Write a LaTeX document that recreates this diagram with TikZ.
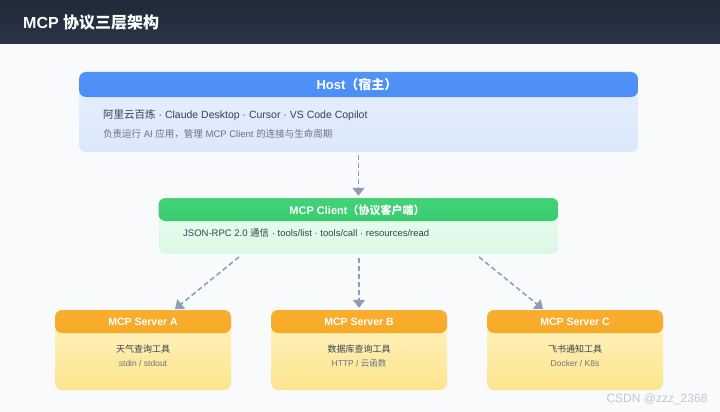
\documentclass[tikz,border=0pt]{standalone}
\usepackage{fontspec}
\setmainfont{Liberation Sans}
\newfontfamily\cjk{Noto Sans CJK SC}
\newcommand\zh[1]{{\cjk #1}}
\usetikzlibrary{arrows.meta}
\definecolor{bg}{HTML}{F8FAFC}
\definecolor{barT}{HTML}{1F2937}
\definecolor{barB}{HTML}{2A3548}
\definecolor{hostH1}{HTML}{5293F7}
\definecolor{hostH2}{HTML}{3D82F2}
\definecolor{hostB1}{HTML}{E8F0FD}
\definecolor{hostB2}{HTML}{DBE8FC}
\definecolor{cliH1}{HTML}{45D27A}
\definecolor{cliH2}{HTML}{25C45E}
\definecolor{cliB1}{HTML}{EBFCF1}
\definecolor{cliB2}{HTML}{DDF8E6}
\definecolor{srvH1}{HTML}{F8AE2E}
\definecolor{srvH2}{HTML}{F59F10}
\definecolor{srvB1}{HTML}{FEF3C6}
\definecolor{srvB2}{HTML}{FDE58D}
\definecolor{conn}{HTML}{8F9CB3}
\definecolor{txtD}{HTML}{374151}
\definecolor{txtG}{HTML}{6B7280}
\definecolor{wm}{HTML}{C3C8D0}
\tikzset{
  card/.style={rounded corners=7pt, inner sep=0pt, draw=none},
  hdr/.style args={#1/#2/#3}{path picture={\shade[top color=#1,bottom color=#2]
      (path picture bounding box.north west) rectangle ([yshift=-#3]path picture bounding box.north east);}},
  ttl/.style={text=white, font=\bfseries\fontsize{#1}{#1}\selectfont, inner sep=0pt},
  ln/.style={text=txtD, font=\fontsize{#1}{#1}\selectfont, inner sep=0pt},
  lng/.style={text=txtG, font=\fontsize{#1}{#1}\selectfont, inner sep=0pt},
  connl/.style={draw=conn, line width=1.5pt, dash pattern=on 5pt off 3pt,
      -{Triangle[length=8pt,width=12pt]}}
}
\begin{document}
\begin{tikzpicture}[x=1pt,y=-1pt]
\useasboundingbox (0,0) rectangle (720,412);
\fill[bg] (0,0) rectangle (720,412);
% title bar
\shade[top color=barT, bottom color=barB] (0,0) rectangle (720,44);
\node[ttl=16, anchor=west] (title) at (23,23) {MCP \zh{协议三层架构}};
% host
\node[card, minimum width=559pt, minimum height=80pt, top color=hostB1, bottom color=hostB2,
      hdr=hostH1/hostH2/25pt] (host) at (358.5,112) {};
\node[ttl=13] (hostt) at (357,85) {Host\zh{（宿主）}};
\node[ln=10.5, anchor=west] (hostl1) at (103,115) {\zh{阿里云百炼} · Claude Desktop · Cursor · VS Code Copilot};
\node[lng=9.5, anchor=west] (hostl2) at (103,134) {\zh{负责运行} AI \zh{应用，管理} MCP Client \zh{的连接与生命周期}};
% client
\node[card, minimum width=400pt, minimum height=56pt, top color=cliB1, bottom color=cliB2,
      hdr=cliH1/cliH2/23pt] (client) at (358.5,226) {};
\node[ttl=11] (clientt) at (357,210) {MCP Client\zh{（协议客户端）}};
\node[ln=9.5, anchor=west] (clientl) at (183,233) {JSON-RPC 2.0 \zh{通信} · tools/list · tools/call · resources/read};
% servers
\foreach \n/\x/\a/\b in {A/143/{\zh{天气查询工具}}/{stdin / stdout},
                         B/359/{\zh{数据库查询工具}}/{HTTP / \zh{云函数}},
                         C/575/{\zh{飞书通知工具}}/{Docker / K8s}}{
  \node[card, minimum width=176pt, minimum height=80pt, top color=srvB1, bottom color=srvB2,
        hdr=srvH1/srvH2/23pt] (srv\n) at (\x,350) {};
  \node[ttl=10.5] (srv\n t) at (\x,322) {MCP Server \n};
  \node[ln=9] (srv\n a) at (\x,349) {\a};
  \node[lng=8.5] (srv\n b) at (\x,363) {\b};
}
% connectors
\draw[connl, shorten <=3pt, shorten >=2pt] (host.south) -- (client.north);
\coordinate (cA) at (239,257);
\coordinate (tA) at (175,309);
\coordinate (cC) at (479,257);
\coordinate (tC) at (543,309);
\coordinate (cB) at (359,258);
\draw[connl] (cA) -- (tA);
\draw[connl, shorten >=2pt] (cB) -- (srvB.north);
\draw[connl] (cC) -- (tC);
% watermark
\node[text=wm, font=\fontsize{12}{12}\selectfont, inner sep=0pt] (wmark) at (657,399) {CSDN @zzz\_2368};
\end{tikzpicture}
\end{document}
